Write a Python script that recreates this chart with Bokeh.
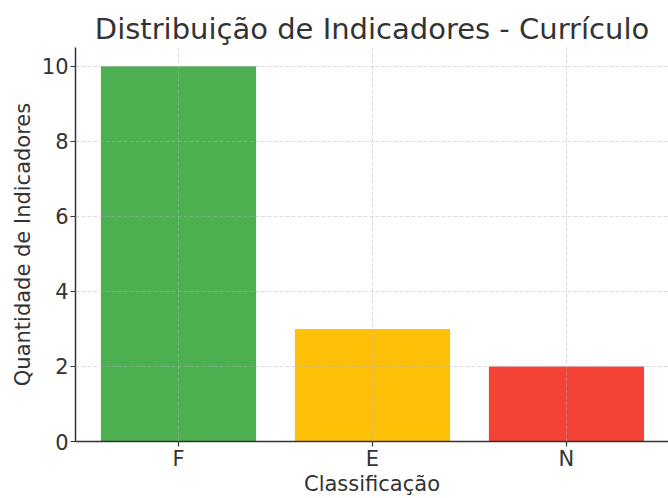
from bokeh.plotting import figure
from bokeh.models import Range1d, FixedTicker, ColumnDataSource
from bokeh.embed import file_html
from bokeh.resources import INLINE

categories = ["F", "E", "N"]
counts = [10, 3, 2]
colors = ["#4CAF50", "#FFC107", "#F44336"]
y_ticks = [0, 2, 4, 6, 8, 10]

xpos = list(range(len(categories)))
src = ColumnDataSource(dict(x=xpos, top=counts, color=colors, cat=categories))

FONT = "DejaVu Sans"
p = figure(width=668, height=498, output_backend="svg", toolbar_location=None,
           x_range=Range1d(-0.531, 2.526), y_range=Range1d(0, 10.5),
           min_border_left=75, min_border_right=0, min_border_top=47, min_border_bottom=55)
p.vbar(x="x", top="top", width=0.8, bottom=0, color="color", line_color=None, source=src)

p.title.text = "Distribuição de Indicadores - Currículo"
p.title.text_font = FONT
p.title.text_font_size = "29px"
p.title.text_font_style = "normal"
p.title.text_color = "#333333"
p.title.align = "center"
p.title.standoff = 4

p.outline_line_color = None

p.xaxis.ticker = FixedTicker(ticks=xpos)
p.xaxis.major_label_overrides = {i: c for i, c in zip(xpos, categories)}
p.yaxis.ticker = FixedTicker(ticks=y_ticks)

for ax in (p.xaxis[0], p.yaxis[0]):
    ax.axis_line_color = "#333333"
    ax.axis_line_width = 1.5
    ax.major_tick_line_color = "#333333"
    ax.major_tick_line_width = 1.2
    ax.major_tick_out = 5
    ax.major_tick_in = 0
    ax.minor_tick_line_color = None
    ax.major_label_text_font = FONT
    ax.major_label_text_font_size = "21px"
    ax.major_label_text_color = "#333333"
    ax.axis_label_text_font = FONT
    ax.axis_label_text_font_size = "21px"
    ax.axis_label_text_font_style = "normal"
    ax.axis_label_text_color = "#333333"

p.xaxis.major_label_standoff = 0
p.xaxis.axis_label_standoff = -2
p.yaxis.major_label_standoff = 2
p.yaxis.axis_label_standoff = 4

p.xaxis.axis_label = "Classificação"
p.yaxis.axis_label = "Quantidade de Indicadores"
p.yaxis.major_label_orientation = "horizontal"

for g in (p.xgrid[0], p.ygrid[0]):
    g.grid_line_color = "#b0b0b0"
    g.grid_line_alpha = 0.6
    g.grid_line_dash = "4 2"
    g.grid_line_width = 0.8
    g.level = "overlay"

open("out.html", "w").write(file_html(p, INLINE))
